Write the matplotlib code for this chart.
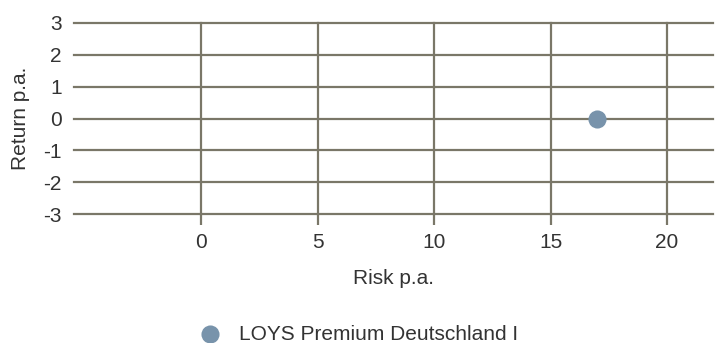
import matplotlib
import matplotlib.pyplot as plt

matplotlib.use('Agg')
plt.rcParams['font.family'] = ['Liberation Sans', 'DejaVu Sans']
plt.rcParams['axes.unicode_minus'] = False

# 数据
fund_names = ['LOYS Premium Deutschland I']
risk = [17.0]
ret = [0.0]
x_ticks = [0, 5, 10, 15, 20]
y_ticks = [-3, -2, -1, 0, 1, 2, 3]

grid_col = '#7a7768'
text_col = '#333333'
dot_col = '#7893ab'
fs = 15

fig = plt.figure(figsize=(7.19, 3.43), dpi=100)
ax = fig.add_axes([74 / 719, 1 - 214 / 343, (713 - 74) / 719, (214 - 23) / 343])

ax.scatter(risk, ret, s=170, color=dot_col, zorder=3, label=fund_names[0], linewidths=0)

ax.set_xlim(-5.45, 21.97)
ax.set_ylim(-3, 3)
ax.set_xticks(x_ticks)
ax.set_yticks(y_ticks)
ax.grid(True, color=grid_col, linewidth=1.6, zorder=1)
ax.set_axisbelow(True)
for ln in ax.get_ygridlines() + ax.get_xgridlines():
    ln.set_clip_on(False)
for s in ax.spines.values():
    s.set_visible(False)
ax.tick_params(axis='x', length=8, width=1.6, color=grid_col, pad=6,
               labelsize=fs, labelcolor=text_col)
ax.tick_params(axis='y', length=0, pad=9, labelsize=fs, labelcolor=text_col)
ax.set_xlabel('Risk p.a.', fontsize=fs, color=text_col, labelpad=12)
ax.set_ylabel('Return p.a.', fontsize=fs, color=text_col, labelpad=9)

fig.legend(loc='center left', bbox_to_anchor=(170 / 719, 1 - 334 / 343), frameon=False,
           fontsize=fs, labelcolor=text_col, handletextpad=0.4, markerscale=1.0)

fig.savefig('out.png', dpi=100)
